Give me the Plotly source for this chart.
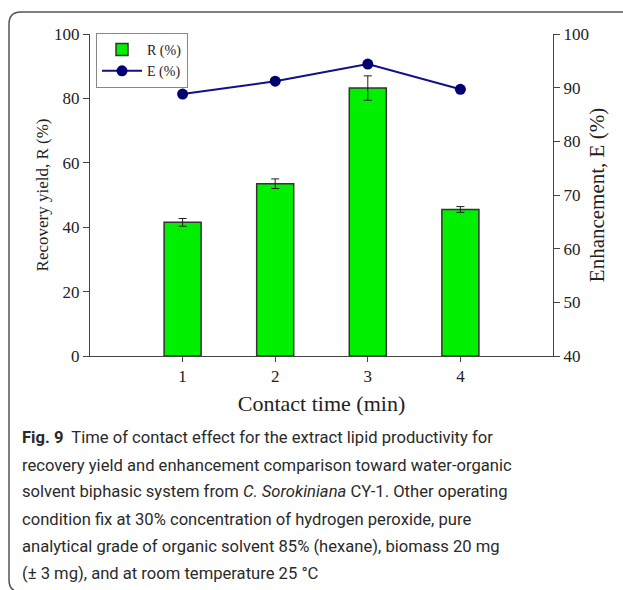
import plotly.graph_objects as go

contact_time = [1, 2, 3, 4]
recovery = [41.5, 53.5, 83.2, 45.5]
recovery_err = [1.2, 1.5, 3.8, 0.9]
enhancement = [88.8, 91.2, 94.4, 89.7]
caption_lines = [
    "<b>Fig. 9</b>  Time of contact effect for the extract lipid productivity for",
    "recovery yield and enhancement comparison toward water-organic",
    "solvent biphasic system from <i>C. Sorokiniana</i> CY-1. Other operating",
    "condition fix at 30% concentration of hydrogen peroxide, pure",
    "analytical grade of organic solvent 85% (hexane), biomass 20 mg",
    "(\u00b1 3 mg), and at room temperature 25 \u00b0C",
]

W, H = 623, 590
L, R, T, B = 90, 70, 34, 234
pw, ph = W - L - R, H - T - B

def px(x):
    return (x - L) / pw

def py(y):
    return (H - B - y) / ph

serif = "Liberation Serif"
axis_col = "#444444"

fig = go.Figure()
fig.add_trace(go.Bar(
    x=contact_time, y=recovery, name="R (%)", width=0.4,
    marker=dict(color="#00f000", line=dict(color="#333333", width=1.5)),
    error_y=dict(type="data", array=recovery_err, color="#222222", thickness=1, width=4),
))
fig.add_trace(go.Scatter(
    x=contact_time, y=enhancement, name="E (%)", yaxis="y2", mode="lines+markers",
    line=dict(color="#10108a", width=2), marker=dict(color="#000070", size=11),
))

fig.update_layout(
    width=W, height=H, margin=dict(l=L, r=R, t=T, b=B),
    paper_bgcolor="white", plot_bgcolor="white",
    font=dict(family=serif, size=16, color="#222222"),
    showlegend=True,
    legend=dict(x=px(96), y=py(33), xanchor="left", yanchor="top",
                bordercolor="#888888", borderwidth=1, bgcolor="white",
                font=dict(family=serif, size=14), tracegroupgap=0,
                itemwidth=40),
    xaxis=dict(range=[0, 5], tickvals=contact_time, ticktext=[str(v) for v in contact_time],
               showline=True, linecolor=axis_col, linewidth=1, ticks="outside", ticklen=5,
               tickcolor=axis_col, showgrid=False, zeroline=False,
               tickfont=dict(family=serif, size=17),
               title=dict(text="Contact time (min)", font=dict(family=serif, size=22), standoff=10)),
    yaxis=dict(range=[0, 100], tickvals=[0, 20, 40, 60, 80, 100],
               showline=True, linecolor=axis_col, linewidth=1, ticks="outside", ticklen=6,
               tickcolor=axis_col, showgrid=False, zeroline=False,
               tickfont=dict(family=serif, size=17),
               title=dict(text="Recovery yield, R (%)", font=dict(family=serif, size=17), standoff=1)),
    yaxis2=dict(range=[40, 100], tickvals=[40, 50, 60, 70, 80, 90, 100], overlaying="y", side="right",
                showline=True, linecolor=axis_col, linewidth=1, ticks="outside", ticklen=6,
                tickcolor=axis_col, showgrid=False, zeroline=False,
                tickfont=dict(family=serif, size=17),
                title=dict(text="Enhancement, E (%)", font=dict(family=serif, size=21), standoff=1)),
)

# caption
line_y = [437, 465, 492, 519, 546, 573]
for txt, yy in zip(caption_lines, line_y):
    fig.add_annotation(text=txt, xref="paper", yref="paper", x=px(20), y=py(yy),
                       xanchor="left", yanchor="middle", showarrow=False, align="left",
                       font=dict(family="Roboto", size=16.6, color="#2a2a2a"))

# rounded frame
r = 12
x0, y0, x1, y1 = 9, 12, 640, 592
path = (f"M {px(x1)},{py(y0)} L {px(x0 + r)},{py(y0)} Q {px(x0)},{py(y0)} {px(x0)},{py(y0 + r)} "
        f"L {px(x0)},{py(y1 - r)} Q {px(x0)},{py(y1)} {px(x0 + r)},{py(y1)} L {px(x1)},{py(y1)}")
fig.add_shape(type="path", path=path, xref="paper", yref="paper",
              line=dict(color="#555555", width=1.5))

fig.write_html("out.html")
